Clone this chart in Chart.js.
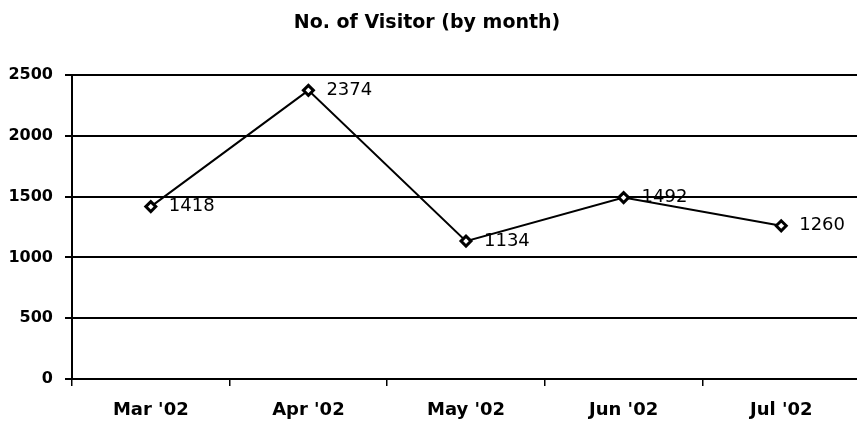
<!DOCTYPE html>
<html>
<head>
<meta charset="utf-8">
<script src="https://cdn.jsdelivr.net/npm/chart.js@4"></script>
<style>
  html, body { margin: 0; padding: 0; background: #fff; overflow: hidden; }
  #wrap { width: 868px; height: 424px; }
</style>
</head>
<body>
<div id="wrap"><canvas id="c" width="868" height="424"></canvas></div>
<script>
const chartTitle = "No. of Visitor (by month)";
const months = ["Mar '02", "Apr '02", "May '02", "Jun '02", "Jul '02"];
const visitors = [1418, 2374, 1134, 1492, 1260];
const yTicks = [0, 500, 1000, 1500, 2000, 2500];

const valueLabels = {
  id: 'valueLabels',
  afterDatasetsDraw(chart) {
    const ctx = chart.ctx;
    const meta = chart.getDatasetMeta(0);
    ctx.save();
    ctx.font = '18px "DejaVu Sans"';
    ctx.fillStyle = '#000';
    ctx.textAlign = 'left';
    ctx.textBaseline = 'middle';
    meta.data.forEach((pt, i) => {
      ctx.fillText(String(visitors[i]), pt.x + 18, pt.y);
    });
    ctx.restore();
  }
};

const titleText = {
  id: 'titleText',
  afterDraw(chart) {
    const ctx = chart.ctx;
    ctx.save();
    ctx.font = 'bold 19px "DejaVu Sans"';
    ctx.fillStyle = '#000';
    ctx.textAlign = 'center';
    ctx.textBaseline = 'middle';
    ctx.fillText(chartTitle, 427, 23);
    ctx.restore();
  }
};

new Chart(document.getElementById('c'), {
  type: 'line',
  data: {
    labels: months,
    datasets: [{
      data: visitors,
      borderColor: '#000',
      borderWidth: 2,
      tension: 0,
      fill: false,
      pointStyle: 'rectRot',
      pointRadius: 5,
      pointBorderWidth: 3,
      pointBorderColor: '#000',
      pointBackgroundColor: '#fff'
    }]
  },
  options: {
    responsive: false,
    animation: false,
    layout: { padding: { left: 0, right: 2, top: 75, bottom: 0 } },
    plugins: {
      legend: { display: false },
      tooltip: { enabled: false },
      title: { display: false }
    },
    scales: {
      x: {
        offset: true,
        grid: {
          offset: true,
          drawOnChartArea: false,
          drawTicks: true,
          tickLength: 7,
          color: '#000',
          lineWidth: 1.5
        },
        border: { display: true, color: '#000', width: 2 },
        ticks: {
          color: '#000',
          font: { family: 'DejaVu Sans', size: 18, weight: 'bold' },
          padding: 14,
          maxRotation: 0
        },
        afterFit(scale) { scale.height = 45; }
      },
      y: {
        min: 0,
        max: 2500,
        afterBuildTicks(scale) { scale.ticks = yTicks.map(v => ({ value: v })); },
        grid: {
          color: '#000',
          lineWidth: 2,
          tickLength: 7,
          drawTicks: true
        },
        border: { display: true, color: '#000', width: 2 },
        ticks: {
          color: '#000',
          font: { family: 'DejaVu Sans', size: 16, weight: 'bold' },
          padding: 12,
          callback: (v) => String(v)
        },
        afterFit(scale) { scale.width = 72; }
      }
    }
  },
  plugins: [valueLabels, titleText]
});
</script>
</body>
</html>
